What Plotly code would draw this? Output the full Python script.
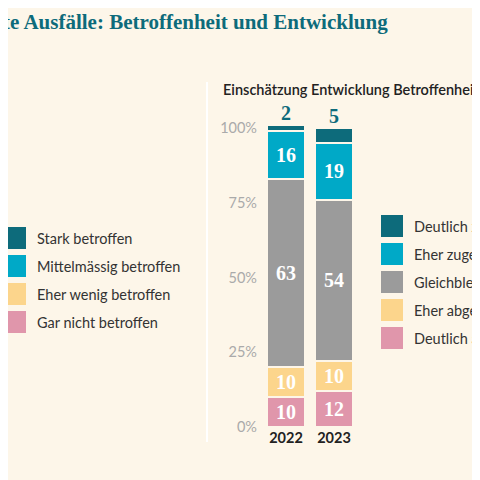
import plotly.graph_objects as go

years = ["2022", "2023"]
series = ["Deutlich abgenommen", "Eher abgenommen", "Gleichbleibend", "Eher zugenommen", "Deutlich zugenommen"]
values = {
    "Deutlich abgenommen": [10, 12],
    "Eher abgenommen": [10, 10],
    "Gleichbleibend": [63, 54],
    "Eher zugenommen": [16, 19],
    "Deutlich zugenommen": [2, 5],
}
colors = {
    "Deutlich abgenommen": "#e096ab",
    "Eher abgenommen": "#fcd58c",
    "Gleichbleibend": "#9b9b9b",
    "Eher zugenommen": "#00a9c7",
    "Deutlich zugenommen": "#0d6b7b",
}
left_labels = ["Stark betroffen", "Mittelmässig betroffen", "Eher wenig betroffen", "Gar nicht betroffen"]
left_colors = ["#0d6b7b", "#00a9c7", "#fcd58c", "#e096ab"]
ticks = [0, 25, 50, 75, 100]
tick_text = ["0%", "25%", "50%", "75%", "100%"]

BG = "#fdf6e9"
OFF = 8  # page body margin
W = H = 480 - OFF
L, R, T, B = 262 - OFF, 122, 116 - OFF, 53
pw, ph = W - L - R, H - T - B

def px(x):
    return (x - OFF - L) / pw

def py(y):
    return (H - B - (y - OFF)) / ph

fig = go.Figure()
for s in series:
    small = s == "Deutlich zugenommen"
    fig.add_bar(
        x=[0, 1], y=values[s], name=s, width=0.8,
        marker=dict(color=colors[s], line=dict(color=BG, width=2)),
        text=None if small else [str(v) for v in values[s]],
        textposition="inside", insidetextanchor="middle",
        textfont=dict(family="Liberation Serif", size=20, color="white", weight="bold"),
        hoverinfo="skip", showlegend=False,
    )

ann = []
tops = [sum(values[s][i] for s in series) for i in range(2)]
for i in range(2):
    ann.append(dict(x=i, y=tops[i], xref="x", yref="y", yanchor="bottom", yshift=-1,
                    text=f"<b>{values['Deutlich zugenommen'][i]}</b>", showarrow=False,
                    font=dict(family="Liberation Serif", size=20, color="#0d6b7b")))

ann.append(dict(x=px(1), y=py(22), xref="paper", yref="paper", xanchor="left", yanchor="middle",
                text="<b>te Ausfälle: Betroffenheit und Entwicklung</b>", showarrow=False,
                font=dict(family="Liberation Serif", size=21, color="#0d6b7b")))
ann.append(dict(x=px(221), y=py(90), xref="paper", yref="paper", xanchor="left", yanchor="middle",
                text="Einschätzung Entwicklung Betroffenheit", showarrow=False,
                font=dict(family="Lato", size=14.5, color="#222", weight=600)))

shapes = [dict(type="line", xref="paper", yref="paper", x0=px(207), x1=px(207), y0=py(82), y1=py(442),
               line=dict(color="#ffffff", width=2))]

for k, (lab, col) in enumerate(zip(left_labels, left_colors)):
    cy = 238 + 28 * k
    shapes.append(dict(type="rect", xref="paper", yref="paper", x0=px(4), x1=px(26),
                       y0=py(cy - 11), y1=py(cy + 11), fillcolor=col, line=dict(width=0)))
    ann.append(dict(x=px(35), y=py(cy), xref="paper", yref="paper", xanchor="left", yanchor="middle",
                    text=lab, showarrow=False, font=dict(family="Lato", size=14.5, color="#333")))

for k, s in enumerate(reversed(series)):
    cy = 226 + 28 * k
    shapes.append(dict(type="rect", xref="paper", yref="paper", x0=px(381), x1=px(403),
                       y0=py(cy - 11), y1=py(cy + 11), fillcolor=colors[s], line=dict(width=0)))
    ann.append(dict(x=px(412), y=py(cy), xref="paper", yref="paper", xanchor="left", yanchor="middle",
                    text=s, showarrow=False, font=dict(family="Lato", size=14.5, color="#333")))

fig.update_layout(
    barmode="stack", width=W, height=H, margin=dict(l=L, r=R, t=T, b=B),
    paper_bgcolor=BG, plot_bgcolor=BG, annotations=ann, shapes=shapes,
    xaxis=dict(range=[-0.5, 1.5], tickvals=[0, 1], ticktext=[f"<b>{y}</b>" for y in years],
               showgrid=False, zeroline=False, showline=False, ticks="",
               tickfont=dict(family="Lato", size=14.5, color="#222")),
    yaxis=dict(range=[0, 104], tickvals=ticks, ticktext=tick_text, showgrid=False, zeroline=False,
               showline=False, ticks="", ticklabelstandoff=4,
               tickfont=dict(family="Lato", size=14.5, color="#aaaaaa")),
)
fig.write_html("out.html")
